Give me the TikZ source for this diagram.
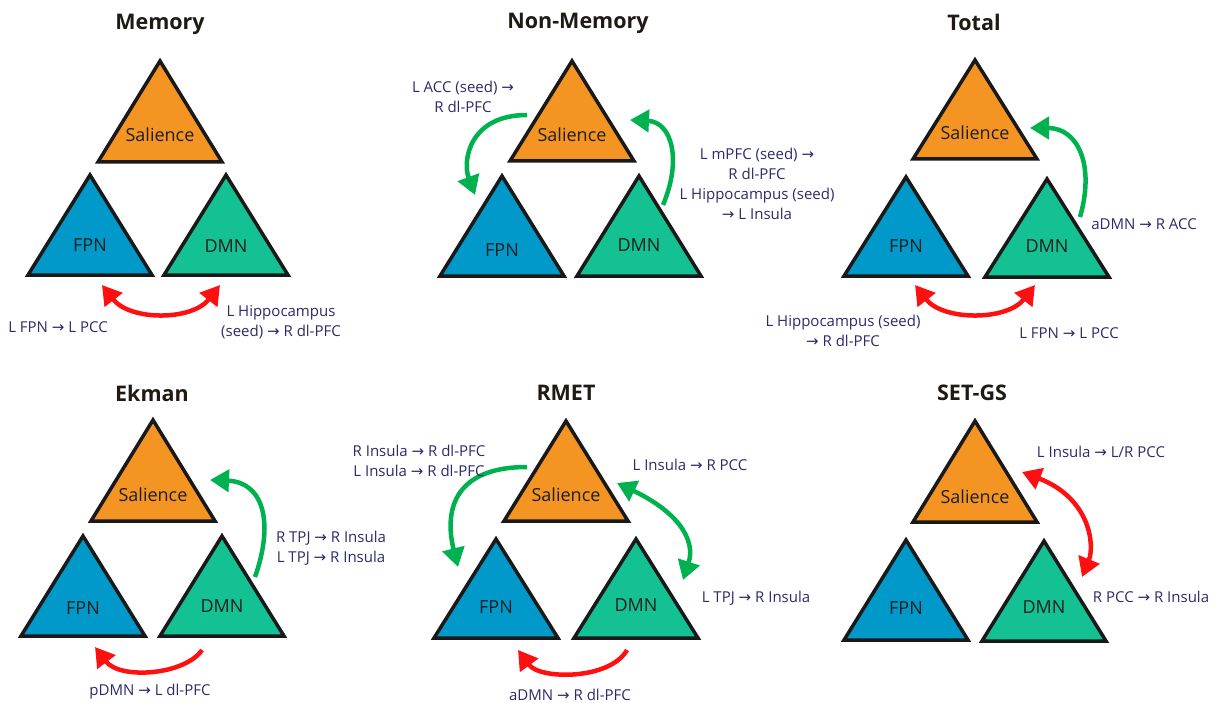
\documentclass[tikz,border=0pt]{standalone}
\usepackage{fontspec}
\setmainfont{Open Sans}
\newfontfamily\arrowfont{DejaVu Sans}
\usetikzlibrary{arrows.meta}

\definecolor{salorange}{HTML}{F39423}
\definecolor{fpnblue}{HTML}{0099C9}
\definecolor{dmngreen}{HTML}{14C192}
\definecolor{arrgreen}{HTML}{00B14F}
\definecolor{arrred}{HTML}{FF1010}
\definecolor{labelblue}{HTML}{2D2A6C}
\definecolor{titleblack}{HTML}{1F1A12}
\newcommand{\toarr}{{\arrowfont →}}

\begin{document}
\begin{tikzpicture}[x=1pt,y=-1pt]
\tikzset{
  tri/.style={draw=black!90, line width=3.5pt, line join=miter},
  netlbl/.style={font=\fontsize{18}{22}\selectfont, text=black!88},
  ttl/.style={font=\fontsize{21.5}{26}\selectfont\bfseries, text=titleblack},
  lbl/.style={text=labelblue, align=center, font=\fontsize{15}{20}\selectfont},
  grarr/.style={draw=arrgreen, line width=4.5pt},
  rdarr/.style={draw=arrred, line width=4.5pt},
  head/.tip={Triangle[length=19pt,width=22pt]}
}
\useasboundingbox (0,0) rectangle (1217,703);

% Memory
\node[ttl] (tMem) at (160,24) {Memory};
\draw[tri, fill=salorange] (160,61) -- (222,162) -- (98,162) -- cycle;
\draw[tri, fill=fpnblue] (90,175) -- (152,275) -- (28,275) -- cycle;
\draw[tri, fill=dmngreen] (226,175) -- (288,275) -- (164,275) -- cycle;
\node[netlbl] (memSal) at (160,135) {Salience};
\node[netlbl] (memFPN) at (90,245) {FPN};
\node[netlbl] (memDMN) at (226,246) {DMN};
\coordinate (memA) at (102,285);
\coordinate (memB) at (220,285);
\draw[rdarr,head-head] (memA) .. controls +(28,36) and +(-28,36) .. (memB);
\node[lbl] (memL1) at (58,327) {L FPN \toarr{} L PCC};
\node[lbl] (memL2) at (281,322) {L Hippocampus\\(seed) \toarr{} R dl-PFC};

% Non-Memory
\node[ttl] (tNon) at (578,23) {Non-Memory};
\draw[tri, fill=salorange] (572,61) -- (634,161) -- (510,161) -- cycle;
\draw[tri, fill=fpnblue] (502,176) -- (564,276) -- (440,276) -- cycle;
\draw[tri, fill=dmngreen] (639,176) -- (701,276) -- (577,276) -- cycle;
\node[netlbl] (nmSal) at (572,135) {Salience};
\node[netlbl] (nmFPN) at (502,250) {FPN};
\node[netlbl] (nmDMN) at (639,245) {DMN};
\coordinate (nmA) at (527,115);
\coordinate (nmB) at (475,195);
\draw[grarr,-head] (nmA) .. controls +(-57,0) and +(-13,-35) .. (nmB);
\coordinate (nmC) at (663,205);
\coordinate (nmD) at (630,120);
\draw[grarr,-head] (nmC) .. controls +(19,-45) and +(42,2) .. (nmD);
\node[lbl] (nmL1) at (463,97) {L ACC (seed) \toarr\\R dl-PFC};
\node[lbl] (nmL2) at (757,184) {L mPFC (seed) \toarr\\R dl-PFC\\L Hippocampus (seed)\\\toarr{} L Insula};

% Total
\node[ttl] (tTot) at (974,22) {Total};
\draw[tri, fill=salorange] (975,60) -- (1037,159) -- (913,159) -- cycle;
\draw[tri, fill=fpnblue] (906,177) -- (968,276) -- (844,276) -- cycle;
\draw[tri, fill=dmngreen] (1047,179) -- (1109,277) -- (985,277) -- cycle;
\node[netlbl] (totSal) at (975,133) {Salience};
\node[netlbl] (totFPN) at (906,246) {FPN};
\node[netlbl] (totDMN) at (1047,246) {DMN};
\coordinate (totA) at (1080,217);
\coordinate (totB) at (1030,128);
\draw[grarr,-head] (totA) .. controls +(15,-52) and +(48,0) .. (totB);
\coordinate (totC) at (915,285);
\coordinate (totD) at (1035,285);
\draw[rdarr,head-head] (totC) .. controls +(28,36) and +(-28,36) .. (totD);
\node[lbl] (totL1) at (1144,224) {aDMN \toarr{} R ACC};
\node[lbl] (totL2) at (843,331) {L Hippocampus (seed)\\\toarr{} R dl-PFC};
\node[lbl] (totL3) at (1069,333) {L FPN \toarr{} L PCC};

% Ekman
\node[ttl] (tEk) at (152,393) {Ekman};
\draw[tri, fill=salorange] (153,420) -- (215,521) -- (91,521) -- cycle;
\draw[tri, fill=fpnblue] (83,536) -- (145,636) -- (21,636) -- cycle;
\draw[tri, fill=dmngreen] (222,536) -- (284,636) -- (160,636) -- cycle;
\node[netlbl] (ekSal) at (153,495) {Salience};
\node[netlbl] (ekFPN) at (83,608) {FPN};
\node[netlbl] (ekDMN) at (222,606) {DMN};
\coordinate (ekA) at (255,577);
\coordinate (ekB) at (210,480);
\draw[grarr,-head] (ekA) .. controls +(20,-57) and +(52,2) .. (ekB);
\coordinate (ekC) at (202,650);
\coordinate (ekD) at (95,647);
\draw[rdarr,-head] (ekC) .. controls +(-17,25) and +(25,33) .. (ekD);
\node[lbl] (ekL1) at (331,548) {R TPJ \toarr{} R Insula\\L TPJ \toarr{} R Insula};
\node[lbl] (ekL2) at (150,692) {pDMN \toarr{} L dl-PFC};

% RMET
\node[ttl] (tRm) at (566,393) {RMET};
\draw[tri, fill=salorange] (566,421) -- (628,521) -- (504,521) -- cycle;
\draw[tri, fill=fpnblue] (496,539) -- (558,638) -- (434,638) -- cycle;
\draw[tri, fill=dmngreen] (636,539) -- (698,638) -- (574,638) -- cycle;
\node[netlbl] (rmSal) at (566,495) {Salience};
\node[netlbl] (rmFPN) at (496,607) {FPN};
\node[netlbl] (rmDMN) at (636,605) {DMN};
\coordinate (rmA) at (527,467);
\coordinate (rmB) at (458,567);
\draw[grarr,-head] (rmA) .. controls +(-77,0) and +(-13,-52) .. (rmB);
\coordinate (rmC) at (617,483);
\coordinate (rmD) at (683,580);
\draw[grarr,head-head] (rmC) .. controls +(61,29) and +(13,-40) .. (rmD);
\coordinate (rmE) at (627,650);
\coordinate (rmF) at (518,650);
\draw[rdarr,-head] (rmE) .. controls +(-17,30) and +(22,30) .. (rmF);
\node[lbl] (rmL1) at (419,461) {R Insula \toarr{} R dl-PFC\\L Insula \toarr{} R dl-PFC};
\node[lbl] (rmL2) at (690,465) {L Insula \toarr{} R PCC};
\node[lbl] (rmL3) at (756,598) {L TPJ \toarr{} R Insula};
\node[lbl] (rmL4) at (570,695) {aDMN \toarr{} R dl-PFC};

% SET-GS
\node[ttl] (tSg) at (972,393) {SET-GS};
\draw[tri, fill=salorange] (975,421) -- (1037,522) -- (913,522) -- cycle;
\draw[tri, fill=fpnblue] (906,540) -- (968,640) -- (844,640) -- cycle;
\draw[tri, fill=dmngreen] (1044,541) -- (1106,641) -- (982,641) -- cycle;
\node[netlbl] (sgSal) at (975,497) {Salience};
\node[netlbl] (sgFPN) at (906,608) {FPN};
\node[netlbl] (sgDMN) at (1044,607) {DMN};
\coordinate (sgA) at (1022,472);
\coordinate (sgB) at (1082,577);
\draw[rdarr,head-head] (sgA) .. controls +(68,26) and +(13,-32) .. (sgB);
\node[lbl] (sgL1) at (1101,452) {L Insula \toarr{} L/R PCC};
\node[lbl] (sgL2) at (1151,597) {R PCC \toarr{} R Insula};
\end{tikzpicture}
\end{document}
